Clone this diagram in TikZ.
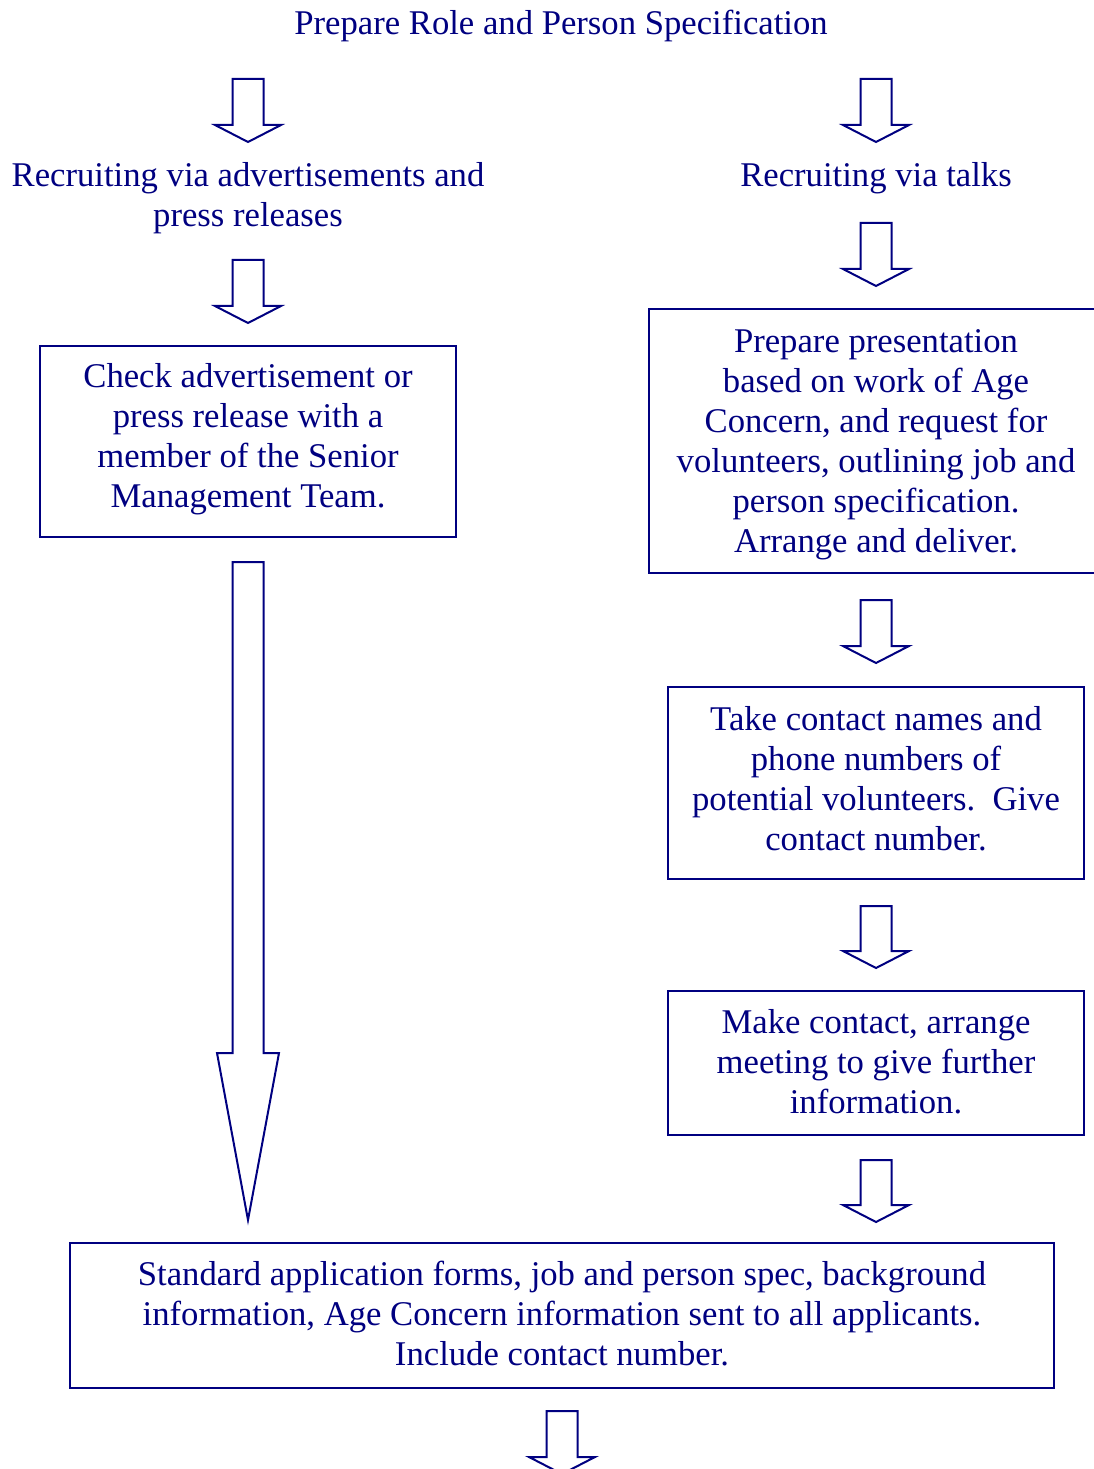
\documentclass[tikz,border=0pt]{standalone}
\usepackage{fontspec}
\setmainfont{Liberation Serif}
\definecolor{navy}{RGB}{0,0,128}
\newcommand\blkarrow[6]{\draw[arr] (#1-#5,#2) -- (#1+#5,#2) -- (#1+#5,#3) -- (#1+#6,#3) -- (#1,#4) -- (#1-#6,#3) -- (#1-#5,#3) -- cycle;}
\newcommand\lines[1]{\begin{tabular}[t]{@{}c@{}}#1\end{tabular}}
\begin{document}
\begin{tikzpicture}[x=0.75pt,y=-0.75pt,
  txt/.style={anchor=base,inner sep=0pt,text=navy,font=\fontsize{26}{30}\selectfont},
  box/.style={draw=navy,line width=1.5pt,inner sep=0pt},
  arr/.style={draw=navy,line width=1.5pt,line join=miter,fill=white}]
\useasboundingbox (0,0) rectangle (1094,1469);
\clip (0,0) rectangle (1094,1469);
% boxes
\node[box,minimum width=312pt,minimum height=143.25pt] (b1) at (248,441.5) {};
\node[box,minimum width=345pt,minimum height=198pt] (b2) at (879,441) {};
\node[box,minimum width=312pt,minimum height=144pt] (b3) at (876,783) {};
\node[box,minimum width=312pt,minimum height=108pt] (b4) at (876,1063) {};
\node[box,minimum width=738pt,minimum height=108.75pt] (b5) at (562,1315.5) {};
% texts
\node[txt] (t0) at (561,35) {Prepare Role and Person Specification};
\node[txt] (tl) at (248,187) {\lines{Recruiting via advertisements and\\press releases}};
\node[txt] (tr) at (876,187) {Recruiting via talks};
\node[txt] (x1) at (248,387) {\lines{Check advertisement or\\press release with a\\member of the Senior\\Management Team.}};
\node[txt] (x2) at (876,352) {\lines{Prepare presentation\\based on work of Age\\Concern, and request for\\volunteers, outlining job and\\person specification.\\Arrange and deliver.}};
\node[txt] (x3) at (876,730) {\lines{Take contact names and\\phone numbers of\\potential volunteers.\ \ Give\\contact number.}};
\node[txt] (x4) at (876,1033) {\lines{Make contact, arrange\\meeting to give further\\information.}};
\node[txt] (x5) at (562,1285) {\lines{Standard application forms, job and person spec, background\\information, Age Concern information sent to all applicants.\\Include contact number.}};
% block arrows
\blkarrow{248}{79}{125}{142}{15.5}{33}
\blkarrow{876}{79}{125}{142}{15.5}{33}
\blkarrow{248}{260}{306}{323}{15.5}{33}
\blkarrow{876}{223}{269}{286}{15.5}{33}
\blkarrow{248}{562}{1053}{1220}{15.5}{31}
\blkarrow{876}{600}{646}{663}{15.5}{33}
\blkarrow{876}{906}{951}{968}{15.5}{33}
\blkarrow{876}{1160}{1205}{1222}{15.5}{33}
\blkarrow{562}{1411}{1457}{1474}{15.5}{33}
\end{tikzpicture}
\end{document}
